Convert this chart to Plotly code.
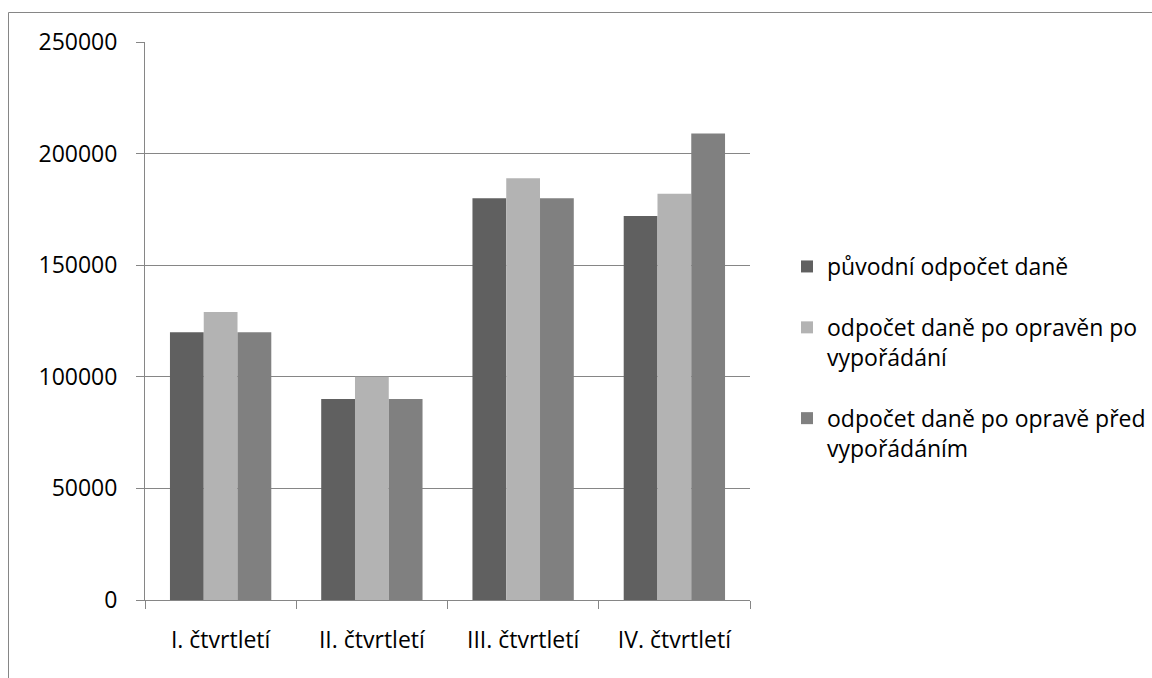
import plotly.graph_objects as go

quarters = ["I. čtvrtletí", "II. čtvrtletí", "III. čtvrtletí", "IV. čtvrtletí"]

series_names = [
    "původní odpočet daně",
    "odpočet daně po opravěn po<br>vypořádání",
    "odpočet daně po opravě před<br>vypořádáním",
]
original_deduction = [120000, 90000, 180000, 172000]
after_settlement = [129000, 100000, 189000, 182000]
before_settlement = [120000, 90000, 180000, 209000]
series_colors = ["#606060", "#b3b3b3", "#808080"]

y_ticks = [0, 50000, 100000, 150000, 200000, 250000]

FONT = "Open Sans"
FSIZE = 23
AXIS_GRAY = "#868686"

fig = go.Figure()
for i, (name, vals, col) in enumerate(
    zip(series_names, [original_deduction, after_settlement, before_settlement], series_colors)
):
    fig.add_trace(go.Bar(
        x=quarters, y=vals, name=name, marker_color=col,
        marker_line_width=0, legendgroup=f"g{i}",
    ))

L, R, T, B = 145, 402, 42, 78
W, H = 1152, 678
pw, ph = W - L - R, H - T - B

fig.update_layout(
    width=W, height=H,
    margin=dict(l=L, r=R, t=T, b=B, autoexpand=False),
    paper_bgcolor="white", plot_bgcolor="white",
    barmode="group", bargap=0.33, bargroupgap=0,
    font=dict(family=FONT, size=FSIZE, color="black"),
    legend=dict(
        x=(787 - L) / pw, y=(600 - 245) / ph, xanchor="left", yanchor="top",
        font=dict(family=FONT, size=FSIZE, color="black"),
        tracegroupgap=28, valign="top", itemwidth=30,
        bgcolor="rgba(0,0,0,0)",
    ),
    xaxis=dict(
        showgrid=False, showline=True, linecolor=AXIS_GRAY, linewidth=1,
        ticks="outside", tickson="boundaries", ticklen=8, tickcolor=AXIS_GRAY,
        tickfont=dict(family=FONT, size=FSIZE), ticklabelstandoff=19,
    ),
    yaxis=dict(
        range=[0, 250000], tickvals=y_ticks, ticktext=[str(v) for v in y_ticks],
        showgrid=True, gridcolor=AXIS_GRAY, gridwidth=1,
        showline=True, linecolor=AXIS_GRAY, linewidth=1,
        ticks="outside", ticklen=8, tickcolor=AXIS_GRAY,
        tickfont=dict(family=FONT, size=FSIZE), ticklabelstandoff=14,
        zeroline=False,
    ),
    shapes=[dict(
        type="rect", xref="paper", yref="paper",
        x0=(8.5 - L) / pw, x1=(W + 5 - L) / pw,
        y0=-(H + 5 - (H - B)) / ph, y1=((H - B) - 12.5) / ph,
        line=dict(color=AXIS_GRAY, width=1), fillcolor="rgba(0,0,0,0)", layer="below",
    )],
)

fig.write_html("out.html")
